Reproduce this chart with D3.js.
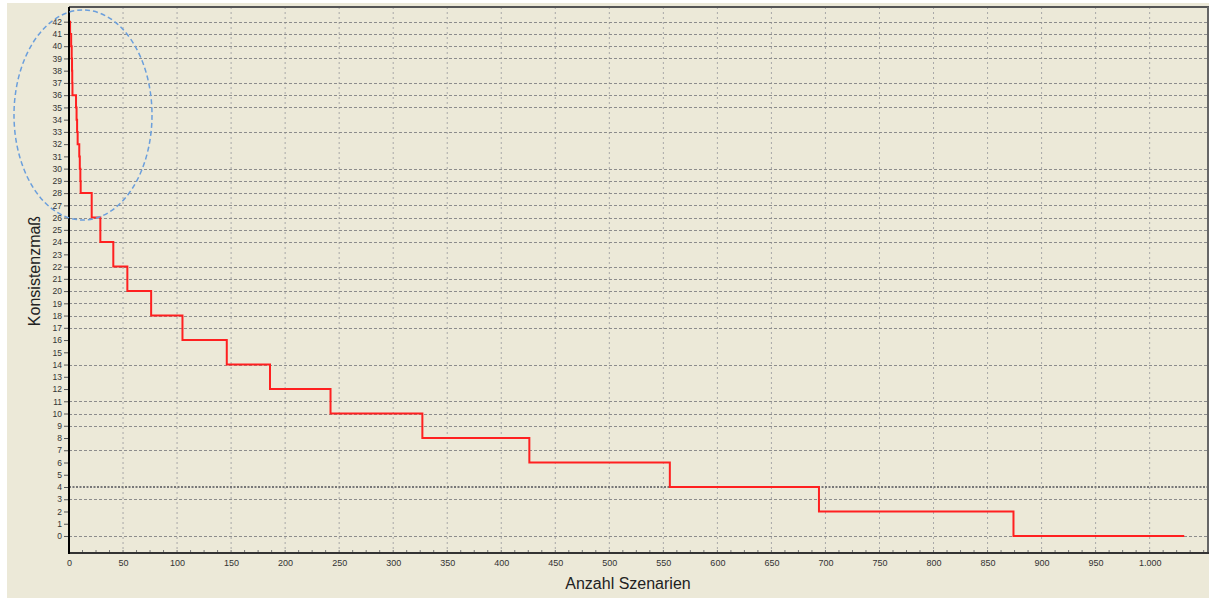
<!DOCTYPE html>
<html>
<head>
<meta charset="utf-8">
<script src="https://cdn.jsdelivr.net/npm/d3@7"></script>
<style>
  html, body { margin: 0; padding: 0; background: #fff; }
  svg { display: block; }
</style>
</head>
<body>
<svg id="chart" width="1209" height="598"></svg>
<script>
// step curve: x where each level starts, and the level
const stepX = [0, 1, 2, 2.5, 2.8, 3, 3.2, 6.5, 7, 7.5, 8, 9.5, 10, 10.5, 10.8, 21, 29, 41, 54, 76, 105, 146, 186, 242, 327, 426, 556, 694, 874, 1032]
const stepY = [42, 41, 40, 39, 38, 37, 36, 35, 34, 33, 32, 31, 30, 29, 28, 26, 24, 22, 20, 18, 16, 14, 12, 10, 8, 6, 4, 2, 0, 0]

const yTicks = d3.range(0, 43)
const xTicks = d3.range(0, 1001, 50)
const xMinor = d3.range(0, 1051, 12.5)
// horizontal grid lines that show up in the picture
const yGrid = [0, 3, 7, 9, 10, 11, 14, 17, 18, 19, 20, 21, 22, 24, 25, 26, 27, 28, 29, 30, 33, 35, 36, 37, 39, 40, 41, 42]
const yGridDense = [4]

const svg = d3.select('#chart')
const bg = '#ECE9D8'

const mLeft = 69, mRight = 1208, mTop = 7, mBottom = 553

const x = d3.scaleLinear().domain([0, 1054]).range([mLeft, mRight])
const y = d3.scaleLinear().domain([-1.39, 43.2]).range([mBottom, mTop])

const de = d3.formatLocale({ decimal: ',', thousands: '.', grouping: [3], currency: ['', ' €'] })
const fmt = de.format(',d')

svg.append('rect').attr('x', 7).attr('y', 3).attr('width', 1202).attr('height', 595).attr('fill', bg)

// vertical grid
svg.append('g')
  .selectAll('line')
  .data(xTicks.filter(d => d > 0))
  .join('line')
  .attr('x1', d => x(d)).attr('x2', d => x(d))
  .attr('y1', mTop).attr('y2', mBottom)
  .attr('stroke', '#a8a8a8')
  .attr('stroke-width', 1)
  .attr('stroke-dasharray', '2,3')

// horizontal grid
svg.append('g')
  .selectAll('line')
  .data(yGrid)
  .join('line')
  .attr('x1', mLeft).attr('x2', mRight)
  .attr('y1', d => Math.round(y(d)) + 0.5).attr('y2', d => Math.round(y(d)) + 0.5)
  .attr('stroke', '#8c8c8c')
  .attr('stroke-width', 1)
  .attr('stroke-dasharray', '3,2')

svg.append('g')
  .selectAll('line')
  .data(yGridDense)
  .join('line')
  .attr('x1', mLeft).attr('x2', mRight)
  .attr('y1', d => y(d)).attr('y2', d => y(d))
  .attr('stroke', '#777')
  .attr('stroke-width', 2)
  .attr('stroke-dasharray', '2,1.5')

// frame top / right
svg.append('line')
  .attr('x1', mLeft).attr('x2', mRight + 1).attr('y1', mTop).attr('y2', mTop)
  .attr('stroke', '#555').attr('stroke-width', 2)
svg.append('line')
  .attr('x1', mRight).attr('x2', mRight).attr('y1', mTop).attr('y2', mBottom)
  .attr('stroke', '#666').attr('stroke-width', 2)

// step line
const pts = stepX.map((d, i) => [d, stepY[i]])
svg.append('path')
  .datum(pts)
  .attr('fill', 'none')
  .attr('stroke', '#ff2020')
  .attr('stroke-width', 2)
  .attr('d', d3.line().x(d => x(d[0])).y(d => y(d[1])).curve(d3.curveStepAfter))

// x axis
const xAxis = svg.append('g')
  .attr('transform', `translate(0,${mBottom})`)
  .call(d3.axisBottom(x).tickValues(xTicks).tickFormat(fmt).tickSize(0).tickPadding(7))
xAxis.select('.domain').remove()
xAxis.selectAll('text').attr('font-family', 'Liberation Sans, Arial, sans-serif').attr('font-size', 9).attr('fill', '#333')
svg.append('g')
  .selectAll('line')
  .data(xMinor)
  .join('line')
  .attr('x1', d => x(d)).attr('x2', d => x(d))
  .attr('y1', mBottom - 3).attr('y2', mBottom)
  .attr('stroke', '#777')
svg.append('line')
  .attr('x1', mLeft).attr('x2', mRight + 1).attr('y1', mBottom).attr('y2', mBottom)
  .attr('stroke', '#333').attr('stroke-width', 2)

// y axis
const yAxis = svg.append('g')
  .attr('transform', `translate(${mLeft},0)`)
  .call(d3.axisLeft(y).tickValues(yTicks).tickSize(5).tickPadding(2))
yAxis.select('.domain').remove()
yAxis.selectAll('.tick line').attr('stroke', '#555')
yAxis.selectAll('text').attr('font-family', 'Liberation Sans, Arial, sans-serif').attr('font-size', 8.5).attr('fill', '#333')
svg.append('line')
  .attr('x1', mLeft).attr('x2', mLeft).attr('y1', mTop).attr('y2', mBottom + 1)
  .attr('stroke', '#000').attr('stroke-width', 2)

// titles
svg.append('text')
  .attr('x', 628).attr('y', 589)
  .attr('text-anchor', 'middle')
  .attr('font-family', 'Liberation Sans, Arial, sans-serif')
  .attr('font-size', 16)
  .attr('fill', '#222')
  .text('Anzahl Szenarien')

svg.append('text')
  .attr('transform', 'translate(40,271) rotate(-90)')
  .attr('text-anchor', 'middle')
  .attr('font-family', 'Liberation Sans, Arial, sans-serif')
  .attr('font-size', 16)
  .attr('fill', '#222')
  .text('Konsistenzmaß')

// highlight ellipse
svg.append('ellipse')
  .attr('cx', 83).attr('cy', 115).attr('rx', 69).attr('ry', 105)
  .attr('fill', 'none')
  .attr('stroke', '#6b9fdc')
  .attr('stroke-width', 1.5)
  .attr('stroke-dasharray', '5,3')
</script>
</body>
</html>
